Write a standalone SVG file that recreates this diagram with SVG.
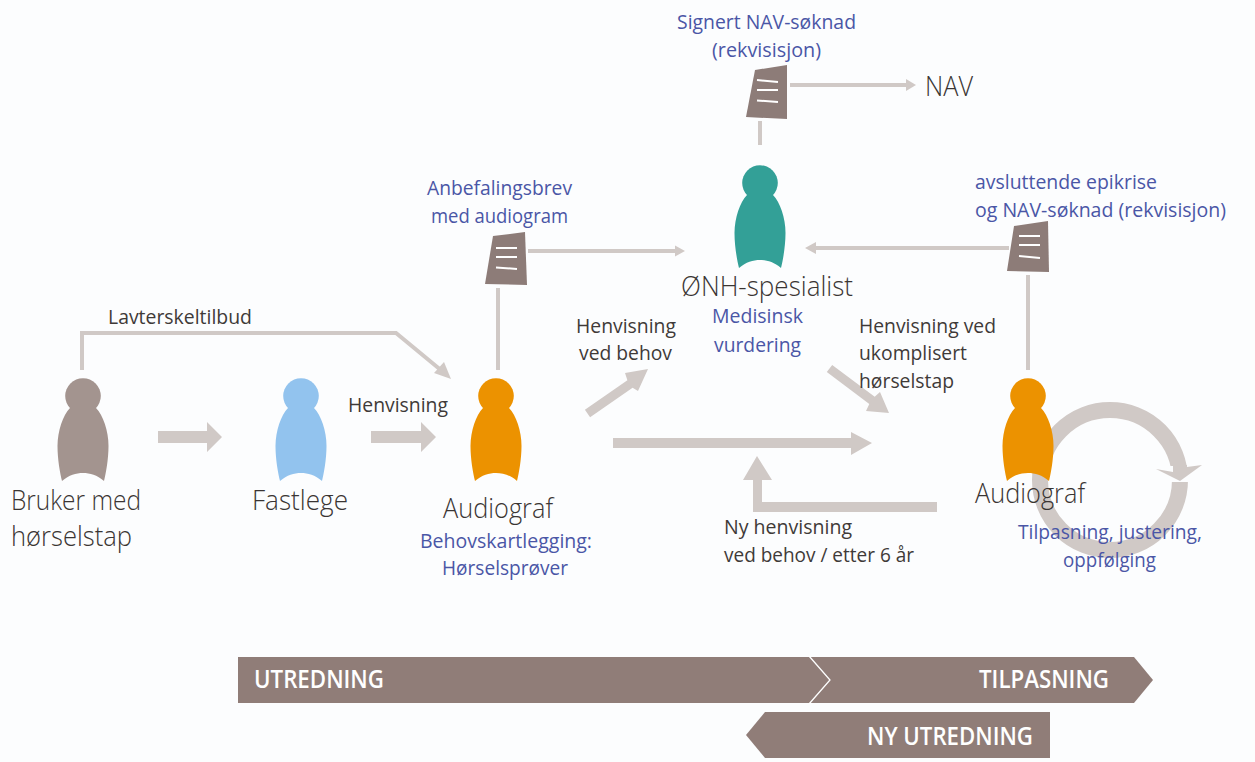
<svg xmlns="http://www.w3.org/2000/svg" width="1255" height="762" viewBox="0 0 1255 762">
<style>
text{font-family:"Open Sans","Noto Sans","Liberation Sans",sans-serif;font-weight:400}
.d{fill:#3f3a38;font-size:19.500px}
.b{fill:#4a56a6;font-size:19.500px}
.l{fill:#3a3533;font-size:28px;font-weight:300}
.w{fill:#fff;font-size:25px;font-weight:600}
.c{fill:none;stroke:#d0c9c6;stroke-width:4}
.f{fill:#d0c9c6}
.bar{fill:#907d78}
.doc{fill:#8d7c78}
.dl{stroke:#fff;stroke-width:2;fill:none}
</style>
<defs>
<g id="person">
<circle cx="0" cy="0" r="17.800"/>
<path d="M-13,12 C-20,19 -25.500,35 -25.500,50 C-25.500,63 -23,77 -21,85 C-14,79 -7,77 0,77 C7,77 14,79 21,85 C23,77 25.500,63 25.500,50 C25.500,35 20,19 13,12 Z"/>
</g>
</defs>
<rect width="1255" height="762" fill="#fcfdfe"/>
<g id="connectors">
<path class="c" d="M82,370 V333 H396 L442,371"/>
<polygon class="f" points="451,379 434,373 444,362"/>
<polygon class="f" points="158,431 207,431 207,422 222,437 207,452 207,443 158,443"/>
<polygon class="f" points="371,431 421,431 421,422 436,437 421,452 421,443 371,443"/>
<path class="c" d="M498,370 V288"/>
<path class="c" d="M528,251 H676"/>
<polygon class="f" points="685,251 675,245.500 675,256.500"/>
<path class="c" d="M760,121 V145"/>
<path class="c" d="M790,85 H907"/>
<polygon class="f" points="916,85 906,79 906,91"/>
<path class="c" d="M1009,248 H815"/>
<polygon class="f" points="805,248 816,242 816,254"/>
<path class="c" d="M1028,370 V275"/>
<polygon class="f" points="584.900,409.800 627.400,380.300 625,373 648,369 638,391 632.600,387.700 590.100,417.200"/>
<polygon class="f" points="832.200,364.900 874.700,396.700 880,392 889,413 866,411 869.300,403.900 826.800,372.100"/>
<polygon class="f" points="613,438 851,438 851,432 872,443 851,455 851,448 613,448"/>
<polygon class="f" points="937,502 937,512 753,512 753,480 743,480 757,456 772,480 762,480 762,502"/>
<circle cx="1110" cy="480" r="70" fill="none" stroke="#d0c9c6" stroke-width="16"/>
<rect x="1165" y="466" width="30" height="16" fill="#fcfdfe"/>
<polygon class="f" points="1156,469 1173,472 1173,465 1187,465 1187,467 1202,465 1180,481"/>
</g>
<g id="docs">
<g id="doc-nav"><polygon class="doc" points="755,70 787,65 787,119 746,117"/><path class="dl" d="M757,80 L778,82 M757,90 H778 M757,100.500 L778,102"/></g>
<g id="doc-anbefaling"><polygon class="doc" points="493,236 525,232 527,285 485,284"/><path class="dl" d="M496,248 H517 M496,257 H517 M496,267.500 L517,269"/></g>
<g id="doc-epikrise"><polygon class="doc" points="1014,226 1048,221 1049,272 1007,271"/><path class="dl" d="M1019,236 H1040 M1019,245 H1040 M1019,256 L1040,258"/></g>
</g>
<g id="node-bruker" fill="#a3948f"><use href="#person" x="83" y="396"/>
<text class="l" x="11" y="510" textLength="130" lengthAdjust="spacingAndGlyphs">Bruker med</text>
<text class="l" x="11" y="546" textLength="121" lengthAdjust="spacingAndGlyphs">hørselstap</text></g>
<g id="node-fastlege" fill="#92c3ee"><use href="#person" x="301" y="396"/>
<text class="l" x="252" y="510" textLength="96" lengthAdjust="spacingAndGlyphs">Fastlege</text></g>
<g id="node-audiograf1" fill="#ec9200"><use href="#person" x="496" y="396"/>
<text class="l" x="443" y="518" textLength="110" lengthAdjust="spacingAndGlyphs">Audiograf</text>
<text class="b" x="420" y="548" textLength="172" lengthAdjust="spacingAndGlyphs">Behovskartlegging:</text>
<text class="b" x="442" y="575" textLength="126" lengthAdjust="spacingAndGlyphs">Hørselsprøver</text></g>
<g id="node-onh" fill="#33a097"><use href="#person" x="760" y="183"/>
<text class="l" x="681" y="296" textLength="172" lengthAdjust="spacingAndGlyphs">ØNH-spesialist</text>
<text class="b" x="712" y="323" textLength="91" lengthAdjust="spacingAndGlyphs">Medisinsk</text>
<text class="b" x="714" y="352" textLength="87" lengthAdjust="spacingAndGlyphs">vurdering</text></g>
<g id="node-audiograf2" fill="#ec9200"><use href="#person" x="1028" y="396"/>
<text class="l" x="975" y="503" textLength="110" lengthAdjust="spacingAndGlyphs">Audiograf</text>
<text class="b" x="1018" y="539" textLength="184" lengthAdjust="spacingAndGlyphs">Tilpasning, justering,</text>
<text class="b" x="1063" y="567" textLength="93" lengthAdjust="spacingAndGlyphs">oppfølging</text></g>
<g id="node-nav"><text class="l" x="925" y="96" textLength="48" lengthAdjust="spacingAndGlyphs">NAV</text></g>
<g id="labels">
<text class="b" x="677" y="29" textLength="179" lengthAdjust="spacingAndGlyphs">Signert NAV-søknad</text>
<text class="b" x="712" y="57" textLength="109" lengthAdjust="spacingAndGlyphs">(rekvisisjon)</text>
<text class="b" x="427" y="195" textLength="145" lengthAdjust="spacingAndGlyphs">Anbefalingsbrev</text>
<text class="b" x="431" y="223" textLength="137" lengthAdjust="spacingAndGlyphs">med audiogram</text>
<text class="b" x="975" y="189" textLength="182" lengthAdjust="spacingAndGlyphs">avsluttende epikrise</text>
<text class="b" x="975" y="217" textLength="251" lengthAdjust="spacingAndGlyphs">og NAV-søknad (rekvisisjon)</text>
<text class="d" x="108" y="324" textLength="144" lengthAdjust="spacingAndGlyphs">Lavterskeltilbud</text>
<text class="d" x="348" y="412" textLength="100" lengthAdjust="spacingAndGlyphs">Henvisning</text>
<text class="d" x="576" y="333" textLength="100" lengthAdjust="spacingAndGlyphs">Henvisning</text>
<text class="d" x="579" y="360" textLength="93" lengthAdjust="spacingAndGlyphs">ved behov</text>
<text class="d" x="859" y="333" textLength="137" lengthAdjust="spacingAndGlyphs">Henvisning ved</text>
<text class="d" x="859" y="360" textLength="108" lengthAdjust="spacingAndGlyphs">ukomplisert</text>
<text class="d" x="859" y="388" textLength="95" lengthAdjust="spacingAndGlyphs">hørselstap</text>
<text class="d" x="724" y="534" textLength="128" lengthAdjust="spacingAndGlyphs">Ny henvisning</text>
<text class="d" x="724" y="562" textLength="190" lengthAdjust="spacingAndGlyphs">ved behov / etter 6 år</text>
</g>
<g id="phases">
<polygon class="bar" points="238,657 1134,657 1153,680 1134,703 238,703"/>
<path d="M809,656 L830,680 L809,704" fill="none" stroke="#fff" stroke-width="1.300"/>
<polygon class="bar" points="765,712 1050,712 1050,758 765,758 746,735"/>
<text class="w" x="254" y="688" textLength="130" lengthAdjust="spacingAndGlyphs">UTREDNING</text>
<text class="w" x="979" y="688" textLength="130" lengthAdjust="spacingAndGlyphs">TILPASNING</text>
<text class="w" x="867" y="745" textLength="166" lengthAdjust="spacingAndGlyphs">NY UTREDNING</text>
</g>
</svg>
